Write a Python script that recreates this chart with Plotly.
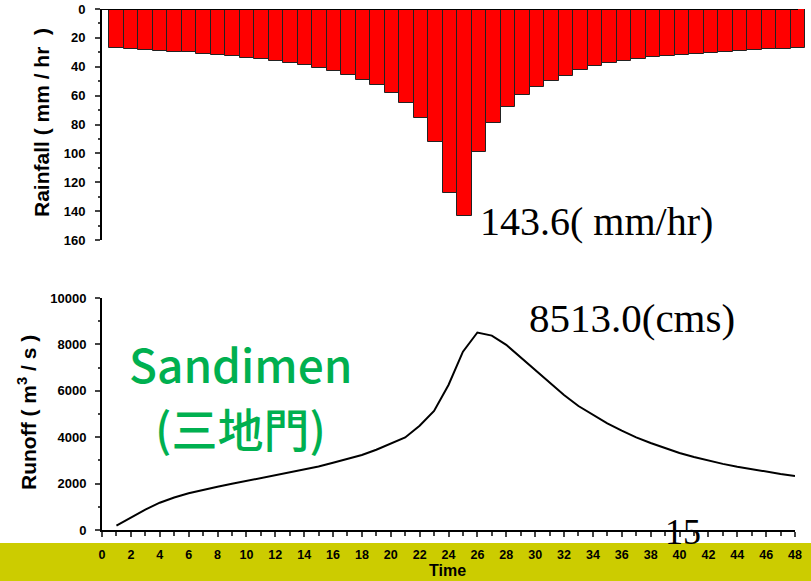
import plotly.graph_objects as go

# ---- data -------------------------------------------------------------
hours = list(range(1, 49))

rainfall_mm_hr = [
    26.8, 27.5, 28.2, 28.9, 29.6, 30.0, 30.9, 31.6, 32.5, 33.7,
    34.9, 36.0, 37.5, 39.0, 41.1, 43.2, 45.9, 48.9, 52.9, 57.9,
    64.9, 75.3, 92.3, 127.7, 143.6, 98.8, 78.7, 67.6, 59.6, 54.2,
    49.6, 46.6, 42.0, 39.7, 37.6, 36.0, 34.8, 33.4, 32.3, 31.9,
    31.2, 30.2, 29.6, 28.9, 28.4, 27.9, 27.5, 26.8,
]

runoff_cms = [
    190, 550, 880, 1177, 1400, 1582, 1740, 1867, 1990, 2112,
    2235, 2357, 2470, 2586, 2740, 2900, 3060, 3233, 3460, 3736,
    3990, 4496, 5129, 6250, 7687, 8513.0, 8380, 7980, 7440, 6870,
    6320, 5820, 5345, 4957, 4598, 4281, 3994, 3750, 3520, 3319,
    3147, 2987, 2850, 2730, 2615, 2513, 2415, 2327,
]

x_ticks = list(range(0, 49, 2))
rain_ticks = list(range(0, 161, 20))
runoff_ticks = list(range(0, 10001, 2000))

station_name = "Sandimen"
station_name_zh = "(三地門)"
page_number = "15"

peak_rain = max(rainfall_mm_hr)
peak_runoff = max(runoff_cms)
peak_rain_hour = hours[rainfall_mm_hr.index(peak_rain)]

# ---- figure geometry (pixels) ----------------------------------------
W, H = 811, 581


def px(x):
    return x / W


def py(y):
    return 1 - y / H


BOLD = dict(family="Liberation Sans, Arial, sans-serif", color="black", weight="bold")

fig = go.Figure()

# Hyetograph (bars hang down from the top axis)
fig.add_trace(go.Bar(
    x=hours, y=rainfall_mm_hr, width=1.0,
    marker=dict(color="#ff0000", line=dict(color="#222222", width=1)),
    xaxis="x", yaxis="y", showlegend=False,
))

# Hydrograph
fig.add_trace(go.Scatter(
    x=hours, y=runoff_cms, mode="lines",
    line=dict(color="black", width=2),
    xaxis="x2", yaxis="y2", showlegend=False,
))

fig.update_layout(
    template="none",
    width=W, height=H,
    margin=dict(l=0, r=0, t=0, b=0, autoexpand=False),
    paper_bgcolor="white", plot_bgcolor="white",
    bargap=0,
    xaxis=dict(
        domain=[px(102), px(806)], range=[0, 48.55], automargin=False,
        showline=False, showticklabels=False, ticks="", showgrid=False,
        zeroline=False, anchor="y",
    ),
    yaxis=dict(
        domain=[py(240), py(9)], range=[160, 0], automargin=False,
        tickvals=rain_ticks, ticks="outside", ticklen=5, tickwidth=1.5,
        minor=dict(dtick=10, ticks="outside", ticklen=2, tickwidth=1.5, showgrid=False),
        showline=True, linecolor="black", linewidth=2,
        showgrid=False, zeroline=False, ticklabelstandoff=7,
        tickfont=dict(size=13, **BOLD), anchor="x",
    ),
    xaxis2=dict(
        domain=[px(102), px(795)], range=[0, 48], automargin=False,
        tickvals=x_ticks, ticks="outside", ticklen=5, tickwidth=1.5,
        minor=dict(dtick=1, ticks="outside", ticklen=4, tickwidth=1.5, showgrid=False),
        showline=True, linecolor="black", linewidth=2,
        showgrid=False, zeroline=False, ticklabelstandoff=7,
        tickfont=dict(size=12.5, **BOLD), anchor="y2",
    ),
    yaxis2=dict(
        domain=[py(530), py(298)], range=[0, 10000], automargin=False,
        tickvals=runoff_ticks, tickformat="d", ticks="outside", ticklen=5, tickwidth=1.5,
        minor=dict(dtick=1000, ticks="outside", ticklen=2, tickwidth=1.5, showgrid=False),
        showline=True, linecolor="black", linewidth=2,
        showgrid=False, zeroline=False, ticklabelstandoff=6,
        tickfont=dict(size=13, **BOLD), anchor="x2",
    ),
)

shapes = [
    # footer band
    dict(type="rect", xref="paper", yref="paper", x0=0, x1=1, y0=0, y1=py(543),
         fillcolor="rgb(204,204,0)", line=dict(width=0), layer="below"),
    # top axis line of the hyetograph
    dict(type="line", xref="x", yref="y", x0=0, x1=48, y0=0, y1=0,
         line=dict(color="black", width=2), layer="above"),
]
fig.update_layout(shapes=shapes)

SERIF = "Liberation Serif, Times New Roman, serif"
GREEN = "rgb(0,176,80)"
annotations = [
    dict(text="Rainfall ( mm / hr \u00a0)", x=px(41), y=py(123), textangle=-90,
         font=dict(size=21, **BOLD)),
    dict(text="Runoff ( m<sup>3</sup> / s )", x=px(27), y=py(413), textangle=-90,
         font=dict(size=21, **BOLD)),
    dict(text="Time", x=px(447), y=0, yanchor="bottom", font=dict(size=16, **BOLD)),
    dict(text=f"{peak_rain:.1f}( mm/hr)", x=peak_rain_hour, xref="x",
         xshift=13, y=py(221), xanchor="left",
         font=dict(family=SERIF, size=40, color="black")),
    dict(text=f"{peak_runoff:.1f}(cms)", x=px(527), y=py(318), xanchor="left",
         font=dict(family=SERIF, size=41, color="black")),
    dict(text=station_name, x=px(240), y=py(363),
         font=dict(family="Noto Sans CJK TC, Noto Sans, sans-serif", size=46,
                   color=GREEN, weight=500)),
    dict(text=station_name_zh, x=px(240), y=py(427),
         font=dict(family="Noto Sans CJK TC, sans-serif", size=46,
                   color=GREEN, weight=500)),
    dict(text=page_number, x=px(683), y=py(532),
         font=dict(family=SERIF, size=36, color="black")),
]
for a in annotations:
    a.setdefault("xref", "paper")
    a.setdefault("yref", "paper")
    a.setdefault("xanchor", "center")
    a.setdefault("yanchor", "middle")
    a["showarrow"] = False
fig.update_layout(annotations=annotations)

fig.write_html(
    "out.html",
    post_script="document.body.style.margin='0';document.body.style.overflow='hidden';",
)
